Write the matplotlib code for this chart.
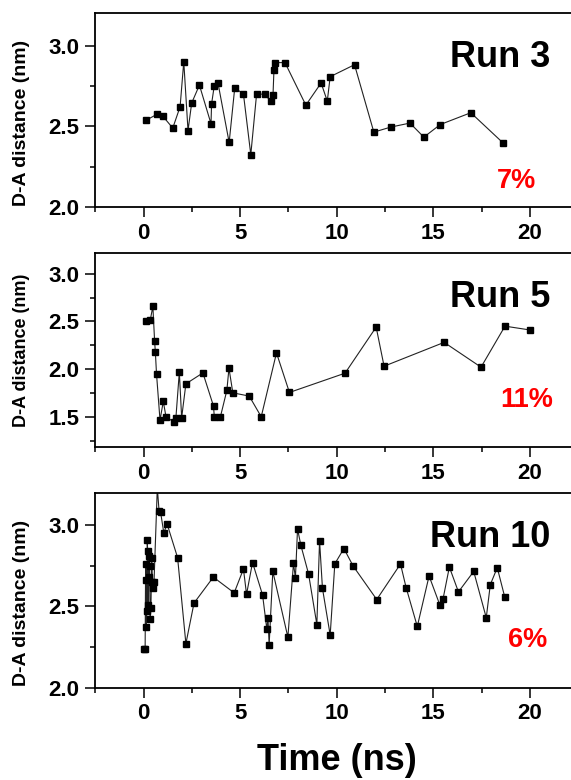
import matplotlib
matplotlib.use("Agg")
import matplotlib.pyplot as plt
from matplotlib.ticker import MultipleLocator

plt.rcParams['font.family'] = ['Liberation Sans', 'DejaVu Sans']
plt.rcParams['font.weight'] = 'bold'

# ---------------- data ----------------
run3_t = [0.11, 0.70, 0.98, 1.51, 1.89, 2.08, 2.30, 2.49, 2.89, 3.49, 3.52, 3.66, 3.85,
          4.43, 4.72, 5.17, 5.55, 5.85, 6.28, 6.58, 6.70, 6.75, 6.79, 7.32, 8.40, 9.19,
          9.51, 9.66, 10.92, 11.92, 12.79, 13.79, 14.51, 15.36, 16.94, 18.62]
run3_d = [2.537, 2.576, 2.566, 2.490, 2.622, 2.901, 2.475, 2.645, 2.756, 2.517, 2.640, 2.752, 2.770,
          2.401, 2.740, 2.700, 2.326, 2.700, 2.700, 2.655, 2.696, 2.851, 2.895, 2.895, 2.632, 2.769,
          2.657, 2.808, 2.882, 2.465, 2.496, 2.521, 2.434, 2.512, 2.585, 2.397]

run5_t = [0.12, 0.35, 0.48, 0.57, 0.61, 0.67, 0.85, 1.02, 1.16, 1.60, 1.67, 1.85, 1.97, 2.19,
          3.07, 3.62, 3.66, 3.97, 4.31, 4.42, 4.62, 5.47, 6.09, 6.88, 7.55,
          10.43, 12.04, 12.45, 15.56, 17.47, 18.71, 20.0]
run5_d = [2.508, 2.519, 2.658, 2.295, 2.174, 1.947, 1.465, 1.661, 1.500, 1.441, 1.483, 1.968, 1.490, 1.845,
          1.960, 1.612, 1.500, 1.494, 1.776, 2.009, 1.751, 1.717, 1.500, 2.170, 1.755,
          1.957, 2.440, 2.030, 2.280, 2.020, 2.450, 2.410]

run10_t = [0.02, 0.08, 0.10, 0.12, 0.14, 0.17, 0.19, 0.21, 0.23, 0.26, 0.28, 0.31, 0.34, 0.38,
           0.42, 0.46, 0.50, 0.54, 0.71, 0.80, 0.88, 1.05, 1.21, 1.76, 2.19, 2.61, 3.61,
           4.69, 5.17, 5.33, 5.64, 6.16, 6.38, 6.44, 6.50, 6.69, 7.47, 7.76, 7.86, 7.97, 8.14,
           8.54, 8.97, 9.11, 9.26, 9.66, 9.90, 10.37, 10.85, 12.07, 13.30, 13.59, 14.17,
           14.78, 15.33, 15.50, 15.83, 16.30, 17.09, 17.74, 17.95, 18.31, 18.70]
run10_d = [2.24, 2.24, 2.66, 2.76, 2.37, 2.47, 2.91, 2.84, 2.51, 2.68, 2.81, 2.75, 2.42, 2.49,
           2.80, 2.65, 2.61, 2.65, 3.23, 3.09, 3.08, 2.95, 3.01, 2.80, 2.27, 2.52, 2.68,
           2.583, 2.730, 2.574, 2.770, 2.570, 2.360, 2.427, 2.264, 2.715, 2.310, 2.764, 2.675, 2.977, 2.877,
           2.700, 2.388, 2.904, 2.611, 2.323, 2.762, 2.856, 2.748, 2.542, 2.761, 2.616, 2.376,
           2.687, 2.511, 2.544, 2.742, 2.589, 2.715, 2.430, 2.634, 2.738, 2.556]

run_names = ["Run 3", "Run 5", "Run 10"]
percents = ["7%", "11%", "6%"]
ylims = [(2.0, 3.2), (1.18, 3.22), (2.0, 3.2)]
yticks_major = [[2.0, 2.5, 3.0], [1.5, 2.0, 2.5, 3.0], [2.0, 2.5, 3.0]]
xticks_major = [0, 5, 10, 15, 20]

series = [(run3_t, run3_d), (run5_t, run5_d), (run10_t, run10_d)]

# ---------------- layout ----------------
W, H = 571, 780
fig = plt.figure(figsize=(W / 100, H / 100), dpi=100)

left_px, right_px = 95.3, 578.2
panels_px = [(13.3, 207.3), (252.7, 447.3), (492.7, 687.5)]
ylabel_y_px = [122.5, 350.5, 602.5]
ylabel_size = [14, 13, 14]
pct_pos = [(0.873, 0.098), (0.893, 0.207), (0.895, 0.209)]

for i, ((top, bot), (t, d)) in enumerate(zip(panels_px, series)):
    ax = fig.add_axes([left_px / W, 1 - bot / H, (right_px - left_px) / W, (bot - top) / H])
    ax.plot(t, d, color='#222222', lw=0.8, marker='s', markersize=4.2,
            markerfacecolor='black', markeredgecolor='black')
    ax.set_xlim(-2.5, 22.5)
    ax.set_ylim(*ylims[i])
    ax.set_xticks(xticks_major)
    ax.set_yticks(yticks_major[i])
    ax.xaxis.set_minor_locator(MultipleLocator(2.5))
    ax.yaxis.set_minor_locator(MultipleLocator(0.25))
    ax.tick_params(axis='both', which='major', direction='out', length=7, width=1.1,
                   labelsize=16, pad=4.5)
    ax.tick_params(axis='both', which='minor', direction='out', length=3.6, width=1.1)
    ax.tick_params(top=False, right=False, which='both')
    ax.set_yticklabels([f"{v:.1f}" for v in yticks_major[i]], fontweight='bold')
    ax.set_xticklabels([str(v) for v in xticks_major], fontweight='bold')
    for s in ax.spines.values():
        s.set_linewidth(1.3)
    ax.text(0.9416, 0.722, run_names[i], transform=ax.transAxes, ha='right', va='baseline',
            fontsize=26, fontweight='bold', color='black')
    ax.text(pct_pos[i][0], pct_pos[i][1], percents[i], transform=ax.transAxes, ha='center',
            va='baseline', fontsize=19.5, fontweight='bold', color='#ff0000')
    fig.text(21.7 / W, 1 - ylabel_y_px[i] / H, "D-A distance (nm)", rotation=90,
             ha='center', va='center', fontsize=ylabel_size[i], fontweight='bold')

fig.text(336.6 / W, 1 - 760 / H, "Time (ns)", ha='center', va='center',
         fontsize=26, fontweight='bold')

fig.savefig("out.png", dpi=100)
